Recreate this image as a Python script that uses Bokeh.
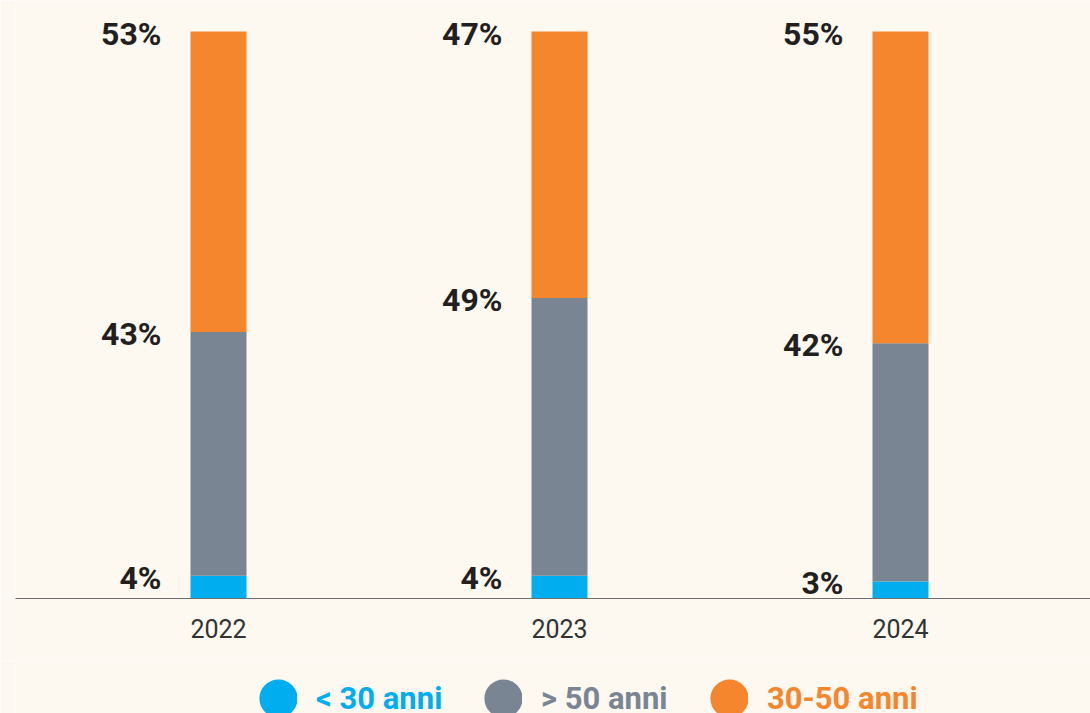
import numpy as np
from bokeh.plotting import figure
from bokeh.layouts import column
from bokeh.models import ColumnDataSource, Range1d, FixedTicker, Legend, LegendItem
from bokeh.core.properties import value
from bokeh.embed import file_html
from bokeh.resources import INLINE

years = ["2022", "2023", "2024"]
under30 = [4, 4, 3]
over50 = [43, 49, 42]
mid3050 = [53, 47, 55]

series_names = ["< 30 anni", "> 50 anni", "30-50 anni"]
colors = ["#00AEEF", "#7A8594", "#F6862D"]

BG = "#FDF8F0"

xs = list(range(len(years)))
b0 = np.zeros(len(years))
t0 = b0 + np.array(under30)
t1 = t0 + np.array(over50)
t2 = t1 + np.array(mid3050)

p = figure(width=1090, height=660, output_backend="svg", toolbar_location=None,
           x_range=Range1d(-0.5953, 2.5572), y_range=Range1d(0, 105.47),
           min_border_left=15, min_border_right=0, min_border_top=0, min_border_bottom=62)
p.background_fill_color = BG
p.border_fill_color = BG
p.outline_line_color = None
p.grid.visible = False
p.yaxis.visible = False

bw = 0.1642
for vals_b, vals_t, c in [(b0, t0, colors[0]), (t0, t1, colors[1]), (t1, t2, colors[2])]:
    src = ColumnDataSource(dict(x=xs, bottom=list(vals_b), top=list(vals_t)))
    p.vbar(x="x", bottom="bottom", top="top", width=bw, source=src,
           fill_color=c, line_color=None)

# value labels
lab_src = ColumnDataSource(dict(
    x=xs * 3,
    y=list(t0) + list(t1) + list(t2),
    text=[f"{v}%" for v in under30] + [f"{v}%" for v in over50] + [f"{v}%" for v in mid3050],
))
p.text(x="x", y="y", text="text", source=lab_src, text_align="right", text_baseline="middle",
       x_offset=-57, y_offset=2, text_font=value("Roboto"), text_font_style="bold",
       text_font_size="32px", text_color="#231F20")

# x axis
p.xaxis.ticker = FixedTicker(ticks=xs)
p.xaxis.major_label_overrides = {i: y for i, y in zip(xs, years)}
p.xaxis.major_tick_line_color = None
p.xaxis.minor_tick_line_color = None
p.xaxis.axis_line_color = "#6E6E6E"
p.xaxis.axis_line_width = 1
p.xaxis.major_label_standoff = 14
p.xaxis.major_label_text_font = "Roboto"
p.xaxis.major_label_text_font_size = "25px"
p.xaxis.major_label_text_color = "#333333"

# legend strip
p2 = figure(width=1090, height=53, output_backend="svg", toolbar_location=None,
            x_range=Range1d(0, 1), y_range=Range1d(0, 1),
            x_axis_location=None, y_axis_location=None,
            min_border_left=0, min_border_right=0, min_border_top=0, min_border_bottom=0)
p2.background_fill_color = BG
p2.border_fill_color = BG
p2.outline_line_color = None
p2.grid.visible = False

leg_x = [244, 469, 695]
for name, c, lx in zip(series_names, colors, leg_x):
    r = p2.scatter(x=[np.nan], y=[np.nan], marker="circle", fill_color=c, line_color=c,
                   line_width=23)
    lg = Legend(items=[LegendItem(label=name, renderers=[r])], location=(lx, -4),
                orientation="horizontal", glyph_width=38, glyph_height=38,
                label_standoff=19, padding=0, margin=0, border_line_color=None,
                background_fill_alpha=0, label_text_font="Roboto",
                label_text_font_style="bold", label_text_font_size="31px",
                label_text_color=c, label_text_baseline="middle")
    p2.add_layout(lg, "center")

layout = column(p, p2, spacing=0)
open("out.html", "w").write(file_html(layout, INLINE))
